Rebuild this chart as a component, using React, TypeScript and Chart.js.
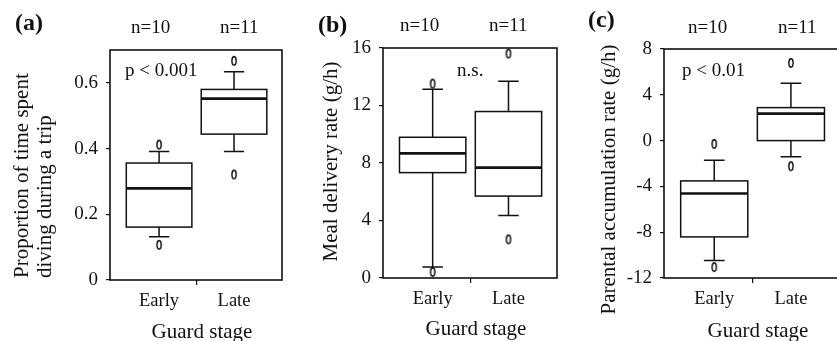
import React, { useEffect, useRef } from "react";
import { Chart, registerables } from "chart.js";
Chart.register(...registerables);

// ---------- data ----------
const categories = ["Early", "Late"];
const sampleSizes = ["n=10", "n=11"];
const xTickValues = [1, 1.5, 2];
const panelLabels = ["(a)", "(b)", "(c)"];
const pTexts = ["p < 0.001", "n.s.", "p < 0.01"];
const yTitles = [
  ["Proportion of time spent", "diving during a trip"],
  ["Meal delivery rate (g/h)"],
  ["Parental accumulation rate (g/h)"],
];
const xTitle = "Guard stage";

// (a) proportion of time spent diving
const aTicks = [0, 0.2, 0.4, 0.6];
const aLowerWhisker = [0.132, 0.391];
const aQ1 = [0.161, 0.444];
const aMedian = [0.279, 0.552];
const aQ3 = [0.356, 0.58];
const aUpperWhisker = [0.391, 0.634];
const aOutliers = [[0.107, 0.412], [0.321, 0.667]];

// (b) meal delivery rate
const bTicks = [0, 4, 8, 12, 16];
const bLowerWhisker = [0.77, 4.34];
const bQ1 = [7.33, 5.7];
const bMedian = [8.67, 7.68];
const bQ3 = [9.79, 11.58];
const bUpperWhisker = [13.13, 13.68];
const bOutliers = [[0.42, 13.52], [2.69, 15.61]];

// (c) parental accumulation rate
const cTicks = [-12, -8, -4, 0, 4, 8];
const cLowerWhisker = [-10.47, -1.42];
const cQ1 = [-8.41, 0.0];
const cMedian = [-4.62, 2.36];
const cQ3 = [-3.52, 2.88];
const cUpperWhisker = [-1.72, 5.0];
const cOutliers = [[-11.05, -0.29], [-2.24, 6.78]];

// ---------- layout / style ----------
const FONT = "'Liberation Serif', 'Times New Roman', serif";
const INK = "#111";
const H = 341;
const BOX_W = 0.875;
const CAP_W = 0.27;

type TextItem = {
  text: string;
  x: number;
  y: number;
  size: number;
  bold?: boolean;
  align: CanvasTextAlign;
  rotate?: boolean;
};

type Panel = {
  canvasLeft: number;
  canvasWidth: number;
  area: { left: number; top: number; right: number; bottom: number };
  yMin: number;
  yMax: number;
  yTicks: number[];
  yFormat: (v: number) => string;
  lower: number[];
  q1: number[];
  median: number[];
  q3: number[];
  upper: number[];
  outliers: number[][];
  texts: TextItem[];
};

const fmtA = (v: number) => (v === 0 ? "0" : v.toFixed(1));
const fmtInt = (v: number) => String(v);

const panels: Panel[] = [
  {
    canvasLeft: 0,
    canvasWidth: 290,
    area: { left: 110, top: 50, right: 282, bottom: 280 },
    yMin: 0,
    yMax: 0.7,
    yTicks: aTicks,
    yFormat: fmtA,
    lower: aLowerWhisker,
    q1: aQ1,
    median: aMedian,
    q3: aQ3,
    upper: aUpperWhisker,
    outliers: aOutliers,
    texts: [
      { text: panelLabels[0], x: 15, y: 30, size: 24, bold: true, align: "left" },
      { text: sampleSizes[0], x: 131, y: 33, size: 19, align: "left" },
      { text: sampleSizes[1], x: 220, y: 33, size: 19, align: "left" },
      { text: pTexts[0], x: 125, y: 76, size: 19, align: "left" },
      { text: yTitles[0][0], x: 28, y: 278, size: 21, align: "left", rotate: true },
      { text: yTitles[0][1], x: 50.5, y: 278, size: 21, align: "left", rotate: true },
      { text: xTitle, x: 202, y: 338, size: 21, align: "center" },
    ],
  },
  {
    canvasLeft: 290,
    canvasWidth: 275,
    area: { left: 383, top: 48, right: 557, bottom: 278 },
    yMin: 0,
    yMax: 16,
    yTicks: bTicks,
    yFormat: fmtInt,
    lower: bLowerWhisker,
    q1: bQ1,
    median: bMedian,
    q3: bQ3,
    upper: bUpperWhisker,
    outliers: bOutliers,
    texts: [
      { text: panelLabels[1], x: 318, y: 32, size: 24, bold: true, align: "left" },
      { text: sampleSizes[0], x: 400, y: 30.5, size: 19, align: "left" },
      { text: sampleSizes[1], x: 489, y: 30.5, size: 19, align: "left" },
      { text: pTexts[1], x: 457, y: 76, size: 19, align: "left" },
      { text: yTitles[1][0], x: 337, y: 161.5, size: 21, align: "center", rotate: true },
      { text: xTitle, x: 476, y: 335, size: 21, align: "center" },
    ],
  },
  {
    canvasLeft: 565,
    canvasWidth: 280,
    area: { left: 664, top: 49, right: 842, bottom: 278 },
    yMin: -12,
    yMax: 8,
    yTicks: cTicks,
    yFormat: fmtInt,
    lower: cLowerWhisker,
    q1: cQ1,
    median: cMedian,
    q3: cQ3,
    upper: cUpperWhisker,
    outliers: cOutliers,
    texts: [
      { text: panelLabels[2], x: 588, y: 27, size: 24, bold: true, align: "left" },
      { text: sampleSizes[0], x: 688, y: 33, size: 19, align: "left" },
      { text: sampleSizes[1], x: 778, y: 33, size: 19, align: "left" },
      { text: pTexts[2], x: 682, y: 76, size: 19, align: "left" },
      { text: yTitles[2][0], x: 615, y: 179.5, size: 21, align: "center", rotate: true },
      { text: xTitle, x: 758, y: 336.5, size: 21, align: "center" },
    ],
  },
];

function makeRing(): HTMLCanvasElement {
  const c = document.createElement("canvas");
  c.width = 8;
  c.height = 12;
  const g = c.getContext("2d")!;
  g.strokeStyle = "#000";
  g.lineWidth = 1.4;
  g.beginPath();
  g.ellipse(4, 6, 2.1, 4.2, 0, 0, Math.PI * 2);
  g.stroke();
  return c;
}

function PanelChart({ p }: { p: Panel }) {
  const ref = useRef<HTMLCanvasElement | null>(null);
  useEffect(() => {
    if (!ref.current) return;
    const ring = makeRing();
    const outlierPoints: { x: number; y: number }[] = [];
    p.outliers.forEach((vals, i) => vals.forEach((v) => outlierPoints.push({ x: i + 1, y: v })));

    const boxPlugin = {
      id: "boxplotDraw",
      beforeDatasetsDraw(chart: any) {
        const { ctx } = chart;
        const xs = chart.scales.x;
        const ys = chart.scales.y;
        ctx.save();
        ctx.strokeStyle = INK;
        ctx.lineCap = "butt";
        categories.forEach((_, i) => {
          const xc = xs.getPixelForValue(i + 1);
          const x0 = xs.getPixelForValue(i + 1 - BOX_W / 2);
          const x1 = xs.getPixelForValue(i + 1 + BOX_W / 2);
          const c0 = xs.getPixelForValue(i + 1 - CAP_W / 2);
          const c1 = xs.getPixelForValue(i + 1 + CAP_W / 2);
          const yQ1 = ys.getPixelForValue(p.q1[i]);
          const yQ3 = ys.getPixelForValue(p.q3[i]);
          const yMed = ys.getPixelForValue(p.median[i]);
          const yLo = ys.getPixelForValue(p.lower[i]);
          const yHi = ys.getPixelForValue(p.upper[i]);
          ctx.lineWidth = 1.5;
          ctx.beginPath();
          ctx.moveTo(xc, yQ3);
          ctx.lineTo(xc, yHi);
          ctx.moveTo(c0, yHi);
          ctx.lineTo(c1, yHi);
          ctx.moveTo(xc, yQ1);
          ctx.lineTo(xc, yLo);
          ctx.moveTo(c0, yLo);
          ctx.lineTo(c1, yLo);
          ctx.stroke();
          ctx.strokeRect(x0, yQ3, x1 - x0, yQ1 - yQ3);
          ctx.lineWidth = 2.6;
          ctx.beginPath();
          ctx.moveTo(x0, yMed);
          ctx.lineTo(x1, yMed);
          ctx.stroke();
        });
        ctx.restore();
      },
      afterDraw(chart: any) {
        const { ctx, chartArea } = chart;
        ctx.save();
        ctx.strokeStyle = INK;
        ctx.lineWidth = 1.6;
        ctx.strokeRect(
          chartArea.left,
          chartArea.top,
          chartArea.right - chartArea.left,
          chartArea.bottom - chartArea.top
        );
        ctx.fillStyle = INK;
        p.texts.forEach((t) => {
          ctx.save();
          ctx.font = `${t.bold ? "bold " : ""}${t.size}px ${FONT}`;
          ctx.textAlign = t.align;
          ctx.textBaseline = "alphabetic";
          ctx.translate(t.x - p.canvasLeft, t.y);
          if (t.rotate) ctx.rotate(-Math.PI / 2);
          ctx.fillText(t.text, 0, 0);
          ctx.restore();
        });
        ctx.restore();
      },
    };

    const chart = new Chart(ref.current, {
      type: "scatter",
      data: {
        datasets: [
          {
            data: outlierPoints,
            pointStyle: ring as any,
            pointRadius: 4,
            borderColor: INK,
            backgroundColor: "transparent",
          },
        ],
      },
      options: {
        responsive: false,
        animation: false,
        layout: {
          padding: {
            left: 0,
            top: p.area.top,
            right: p.canvasLeft + p.canvasWidth - p.area.right,
            bottom: 0,
          },
        },
        plugins: {
          legend: { display: false },
          tooltip: { enabled: false },
          title: { display: false },
        },
        scales: {
          x: {
            type: "linear",
            min: 0.345,
            max: 2.64,
            afterBuildTicks: (s: any) => {
              s.ticks = xTickValues.map((v) => ({ value: v }));
            },
            afterFit: (s: any) => {
              s.height = H - p.area.bottom;
            },
            ticks: {
              autoSkip: false,
              maxRotation: 0,
              padding: 5,
              color: INK,
              font: { family: FONT, size: 18.5 },
              callback: (v: any) => {
                const n = Number(v);
                return Number.isInteger(n) ? categories[n - 1] : "";
              },
            },
            grid: {
              drawOnChartArea: false,
              tickLength: 5,
              lineWidth: 1.2,
              tickColor: (ctx: any) =>
                ctx.tick && ctx.tick.value === 1.5 ? INK : "rgba(0,0,0,0)",
            },
            border: { display: false },
          },
          y: {
            type: "linear",
            min: p.yMin,
            max: p.yMax,
            afterBuildTicks: (s: any) => {
              s.ticks = p.yTicks.map((v) => ({ value: v }));
            },
            afterFit: (s: any) => {
              s.width = p.area.left - p.canvasLeft;
            },
            ticks: {
              padding: 8,
              color: INK,
              font: { family: FONT, size: 19 },
              callback: (v: any) => p.yFormat(Number(v)),
            },
            grid: {
              drawOnChartArea: false,
              tickLength: 4,
              lineWidth: 1.2,
              tickColor: INK,
            },
            border: { display: false },
          },
        },
      } as any,
      plugins: [boxPlugin],
    });
    return () => chart.destroy();
  }, [p]);
  return (
    <canvas
      ref={ref}
      width={p.canvasWidth}
      height={H}
      style={{ position: "absolute", left: p.canvasLeft, top: 0, width: p.canvasWidth, height: H }}
    />
  );
}

export default function App() {
  return (
    <div
      style={{
        position: "absolute",
        left: 0,
        top: 0,
        width: 837,
        height: H,
        overflow: "hidden",
        background: "#fff",
      }}
    >
      {panels.map((p, i) => (
        <PanelChart key={i} p={p} />
      ))}
    </div>
  );
}
